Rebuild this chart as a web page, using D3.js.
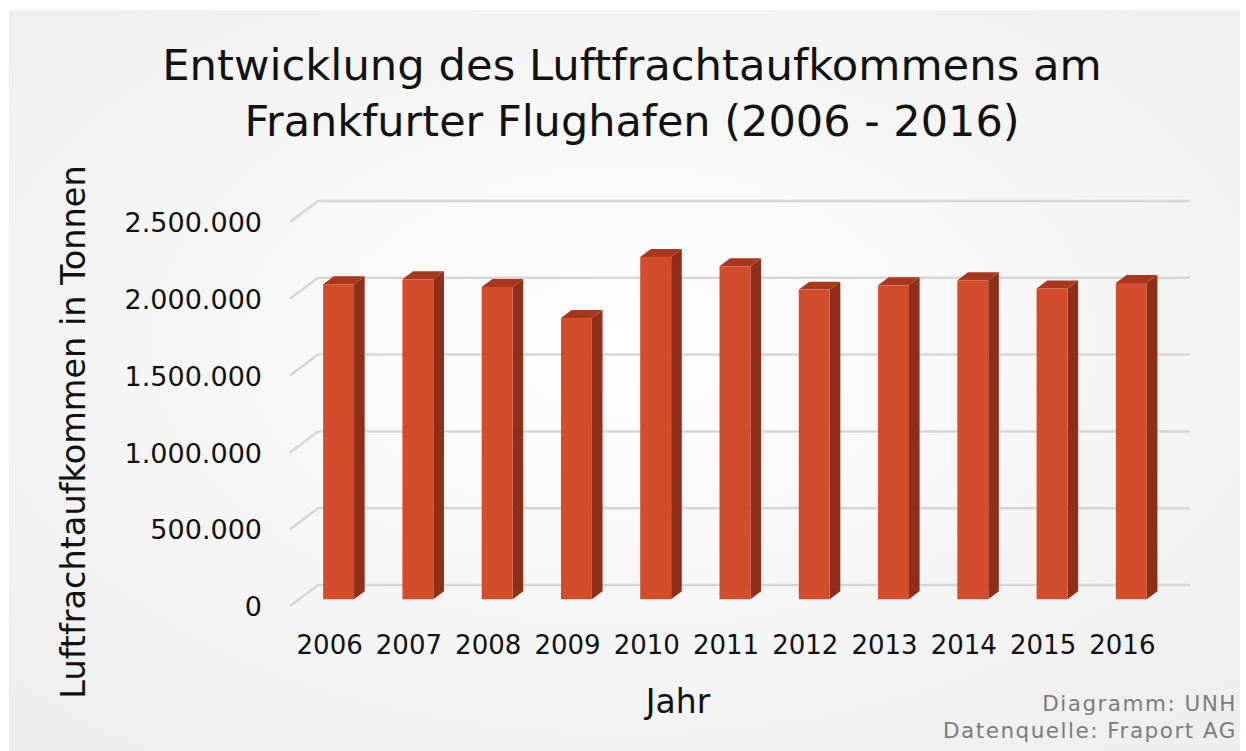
<!DOCTYPE html>
<html lang="de">
<head>
    <meta charset="UTF-8">
    <script src="https://d3js.org/d3.v7.min.js"></script>
    <title>Luftfracht Frankfurt</title>
    <style>
      body { margin: 0; background: #fff; }
      text { font-family: "DejaVu Sans", sans-serif; }
    </style>
</head>
<body>
    <script>
    // data (tonnes)
    var years = ["2006", "2007", "2008", "2009", "2010", "2011", "2012", "2013", "2014", "2015", "2016"]
    var tonnes = [2051000, 2083000, 2033000, 1831000, 2229000, 2168000, 2016000, 2044000, 2077000, 2023000, 2059000]
    var yTicks = [0, 500000, 1000000, 1500000, 2000000, 2500000]
    var titleLines = ["Entwicklung des Luftfrachtaufkommens am", "Frankfurter Flughafen (2006 - 2016)"]

    var width = 1246, height = 751

    var svg = d3.select("body").append("svg")
        .attr("width", width)
        .attr("height", height)

    // background
    var defs = svg.append("defs")
    var bg = defs.append("radialGradient").attr("id", "bg")
        .attr("cx", "50%").attr("cy", "45%").attr("r", "70%")
    bg.append("stop").attr("offset", "0%").attr("stop-color", "#ffffff")
    bg.append("stop").attr("offset", "100%").attr("stop-color", "#eeeeee")
    svg.append("rect").attr("x", 9).attr("y", 10).attr("width", 1231).attr("height", 741)
        .attr("fill", "url(#bg)")

    // pseudo 3d geometry: front plane + depth offset
    var front = { left: 290, right: 1162, base: 606 }
    var depth = { dx: 28, dy: -21 }
    var barDepth = [0.32, 0.70]   // bars sit between these depth fractions

    var x = d3.scaleBand()
        .domain(years)
        .range([front.left, front.right])
        .paddingInner(0.61)
        .paddingOuter(0.305)

    var y = d3.scaleLinear()
        .domain([0, 2500000])
        .range([front.base, front.base - 384])

    var de = d3.formatLocale({ decimal: ",", thousands: ".", grouping: [3], currency: ["", " €"] })

    // gridlines (side wall stub + back wall)
    svg.append("g").selectAll("path")
        .data(yTicks)
        .enter()
        .append("path")
        .attr("d", function (d) {
            var y0 = y(d)
            return "M" + front.left + "," + y0 +
                "L" + (front.left + depth.dx) + "," + (y0 + depth.dy) +
                "L" + (front.right + depth.dx) + "," + (y0 + depth.dy)
        })
        .attr("fill", "none")
        .attr("stroke", "#d6d6d6")
        .attr("stroke-width", 2.5)

    // y axis labels
    var yAxis = svg.append("g")
        .attr("transform", "translate(" + front.left + ",0)")
        .call(d3.axisLeft(y).tickValues(yTicks).tickSize(0).tickPadding(28).tickFormat(de.format(",d")))
    yAxis.select(".domain").remove()
    yAxis.selectAll("text")
        .style("font-family", "DejaVu Sans")
        .style("font-size", "27px")
        .attr("fill", "#111")
        .attr("dy", "0.36em")

    // x axis labels
    var xAxis = svg.append("g")
        .attr("transform", "translate(0," + front.base + ")")
        .call(d3.axisBottom(x).tickSize(0).tickPadding(30))
    xAxis.select(".domain").remove()
    xAxis.selectAll("text")
        .style("font-family", "DejaVu Sans")
        .style("font-size", "26px")
        .attr("fill", "#111")

    // bars
    var f0 = barDepth[0], f1 = barDepth[1]
    var bars = svg.append("g").selectAll("g")
        .data(years.map(function (d, i) { return { year: d, value: tonnes[i] } }))
        .enter()
        .append("g")

    function pt(px, py) { return px + "," + py }

    bars.append("path")   // side
        .attr("d", function (d) {
            var xr = x(d.year) + x.bandwidth() + depth.dx * f0
            var yb = y(0) + depth.dy * f0, yt = y(d.value) + depth.dy * f0
            var ex = depth.dx * (f1 - f0), ey = depth.dy * (f1 - f0)
            return "M" + pt(xr, yb) + "L" + pt(xr + ex, yb + ey) + "L" + pt(xr + ex, yt + ey) + "L" + pt(xr, yt) + "Z"
        })
        .attr("fill", "#8f2f19")

    bars.append("path")   // top
        .attr("d", function (d) {
            var xl = x(d.year) + depth.dx * f0, xr = xl + x.bandwidth()
            var yt = y(d.value) + depth.dy * f0
            var ex = depth.dx * (f1 - f0), ey = depth.dy * (f1 - f0)
            return "M" + pt(xl, yt) + "L" + pt(xl + ex, yt + ey) + "L" + pt(xr + ex, yt + ey) + "L" + pt(xr, yt) + "Z"
        })
        .attr("fill", "#a8381d")

    bars.append("rect")   // front
        .attr("x", function (d) { return x(d.year) + depth.dx * f0 })
        .attr("y", function (d) { return y(d.value) + depth.dy * f0 })
        .attr("width", x.bandwidth())
        .attr("height", function (d) { return y(0) - y(d.value) })
        .attr("fill", "#d34d2c")

    // title
    svg.append("g").selectAll("text")
        .data(titleLines)
        .enter()
        .append("text")
        .attr("x", 632)
        .attr("y", function (d, i) { return 80 + i * 56 })
        .attr("text-anchor", "middle")
        .style("font-size", function (d, i) { return i === 0 ? "43.3px" : "43px" })
        .attr("fill", "#111")
        .text(function (d) { return d })

    // axis titles
    svg.append("text")
        .attr("transform", "translate(85,432) rotate(-90)")
        .attr("text-anchor", "middle")
        .style("font-size", "33.5px")
        .attr("fill", "#111")
        .text("Luftfrachtaufkommen in Tonnen")

    svg.append("text")
        .attr("x", 678)
        .attr("y", 713)
        .attr("text-anchor", "middle")
        .style("font-size", "33px")
        .attr("fill", "#111")
        .text("Jahr")

    // credits
    svg.append("text")
        .attr("x", 1237).attr("y", 711)
        .attr("text-anchor", "end")
        .style("font-size", "21.5px")
        .style("letter-spacing", "1.5px")
        .attr("fill", "#7d7d7d")
        .text("Diagramm: UNH")
    svg.append("text")
        .attr("x", 1237).attr("y", 738)
        .attr("text-anchor", "end")
        .style("font-size", "21.5px")
        .style("letter-spacing", "1.5px")
        .attr("fill", "#7d7d7d")
        .text("Datenquelle: Fraport AG")
    </script>
</body>
</html>
